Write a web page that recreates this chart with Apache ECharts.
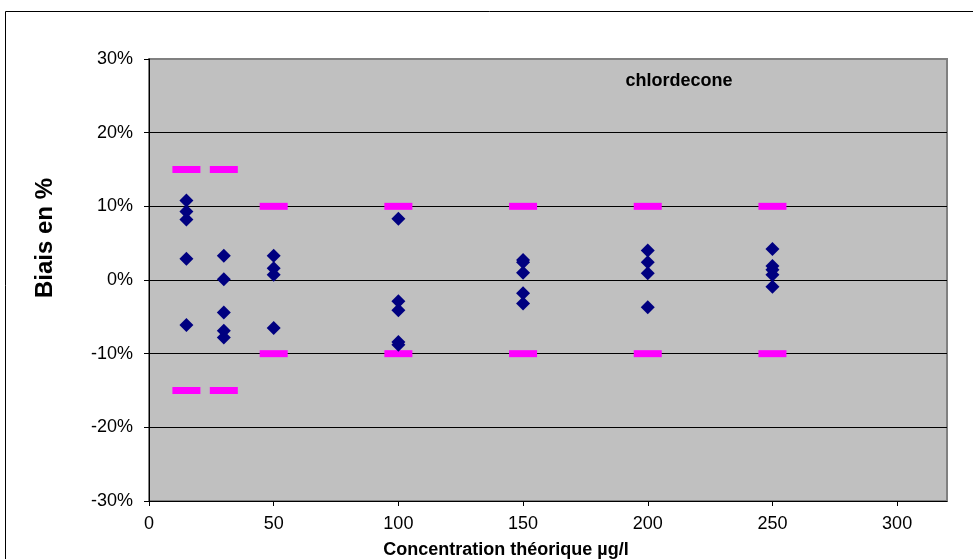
<!DOCTYPE html>
<html>
<head>
<meta charset="utf-8">
<script src="https://cdn.jsdelivr.net/npm/echarts@6/dist/echarts.min.js"></script>
<style>html,body{margin:0;padding:0;background:#fff;}#c{width:973px;height:559px;}</style>
</head>
<body>
<div id="c"></div>
<script>
// Data
const conc15 = [10.8, 9.3, 8.2, 2.9, -6.1];
const conc30 = [3.3, 0.1, -4.4, -6.9, -7.8];
const conc50 = [3.3, 1.6, 0.7, -6.5];
const conc100 = [8.3, -2.9, -4.1, -8.4, -8.8];
const conc150 = [2.7, 2.4, 1.0, -1.8, -3.2];
const conc200 = [4.0, 2.4, 0.9, -3.7];
const conc250 = [4.2, 1.9, 1.4, 0.7, -0.9];
const concentrations = [15, 30, 50, 100, 150, 200, 250];
const limitsUpper = [15, 15, 10, 10, 10, 10, 10];
const limitsLower = [-15, -15, -10, -10, -10, -10, -10];
const xTicks = [0, 50, 100, 150, 200, 250, 300];
const yTicks = [-30, -20, -10, 0, 10, 20, 30];
const chartTitle = 'chlordecone';
const xTitle = 'Concentration théorique µg/l';
const yTitle = 'Biais en %';

const groups = [conc15, conc30, conc50, conc100, conc150, conc200, conc250];
const points = [];
groups.forEach((g, i) => g.forEach(v => points.push([concentrations[i], v])));
const limitPts = [];
concentrations.forEach((c, i) => { limitPts.push([c, limitsUpper[i]]); limitPts.push([c, limitsLower[i]]); });

const chart = echarts.init(document.getElementById('c'), null, {renderer: 'canvas'});
const font = 'Liberation Sans, Arial, sans-serif';
chart.setOption({
  animation: false,
  backgroundColor: '#ffffff',
  graphic: [
    {type: 'rect', shape: {x: 5.5, y: 11.5, width: 1000, height: 600}, style: {fill: 'none', stroke: '#000', lineWidth: 1}, z: -10},
    {type: 'text', x: 679, y: 81, z: 10,
     style: {text: chartTitle, font: 'bold 18px Liberation Sans, Arial, sans-serif', fill: '#000', textAlign: 'center', textVerticalAlign: 'middle'}},
    {type: 'text', x: 45, y: 238, rotation: Math.PI / 2,
     style: {text: yTitle, font: 'bold 24px Liberation Sans, Arial, sans-serif', fill: '#000', textAlign: 'center', textVerticalAlign: 'middle'}},
    {type: 'text', x: 506, y: 550,
     style: {text: xTitle, font: 'bold 18px Liberation Sans, Arial, sans-serif', fill: '#000', textAlign: 'center', textVerticalAlign: 'middle'}}
  ],
  grid: {
    left: 149, right: 26, top: 59, bottom: 58,
    outerBoundsMode: 'none', containLabel: false,
    show: true, backgroundColor: '#C0C0C0', borderColor: '#808080', borderWidth: 2
  },
  xAxis: {
    type: 'value', min: 0, max: 320, interval: 50,
    axisLine: {show: true, onZero: false, lineStyle: {color: '#000', width: 1}},
    axisTick: {show: true, length: 5, inside: false, lineStyle: {color: '#000'}, customValues: xTicks},
    axisLabel: {fontFamily: font, fontSize: 18, color: '#000', margin: 14, customValues: xTicks},
    splitLine: {show: false}
  },
  yAxis: {
    type: 'value', min: -30, max: 30, interval: 10,
    axisLine: {show: true, onZero: false, lineStyle: {color: '#000', width: 1}},
    axisTick: {show: true, length: 5, inside: false, lineStyle: {color: '#000'}},
    axisLabel: {fontFamily: font, fontSize: 18, color: '#000', margin: 16, formatter: '{value}%'},
    splitLine: {show: true, lineStyle: {color: ['#000', '#000', '#000', '#000', '#000', '#000', '#808080'], width: 1}}
  },
  series: [
    {
      type: 'scatter', data: limitPts, symbol: 'rect', symbolSize: [28, 7],
      itemStyle: {color: '#FF00FF', opacity: 1}, z: 2
    },
    {
      type: 'scatter', data: points, symbol: 'diamond', symbolSize: 14,
      itemStyle: {color: '#000080', opacity: 1}, z: 3
    }
  ]
});
</script>
</body>
</html>
